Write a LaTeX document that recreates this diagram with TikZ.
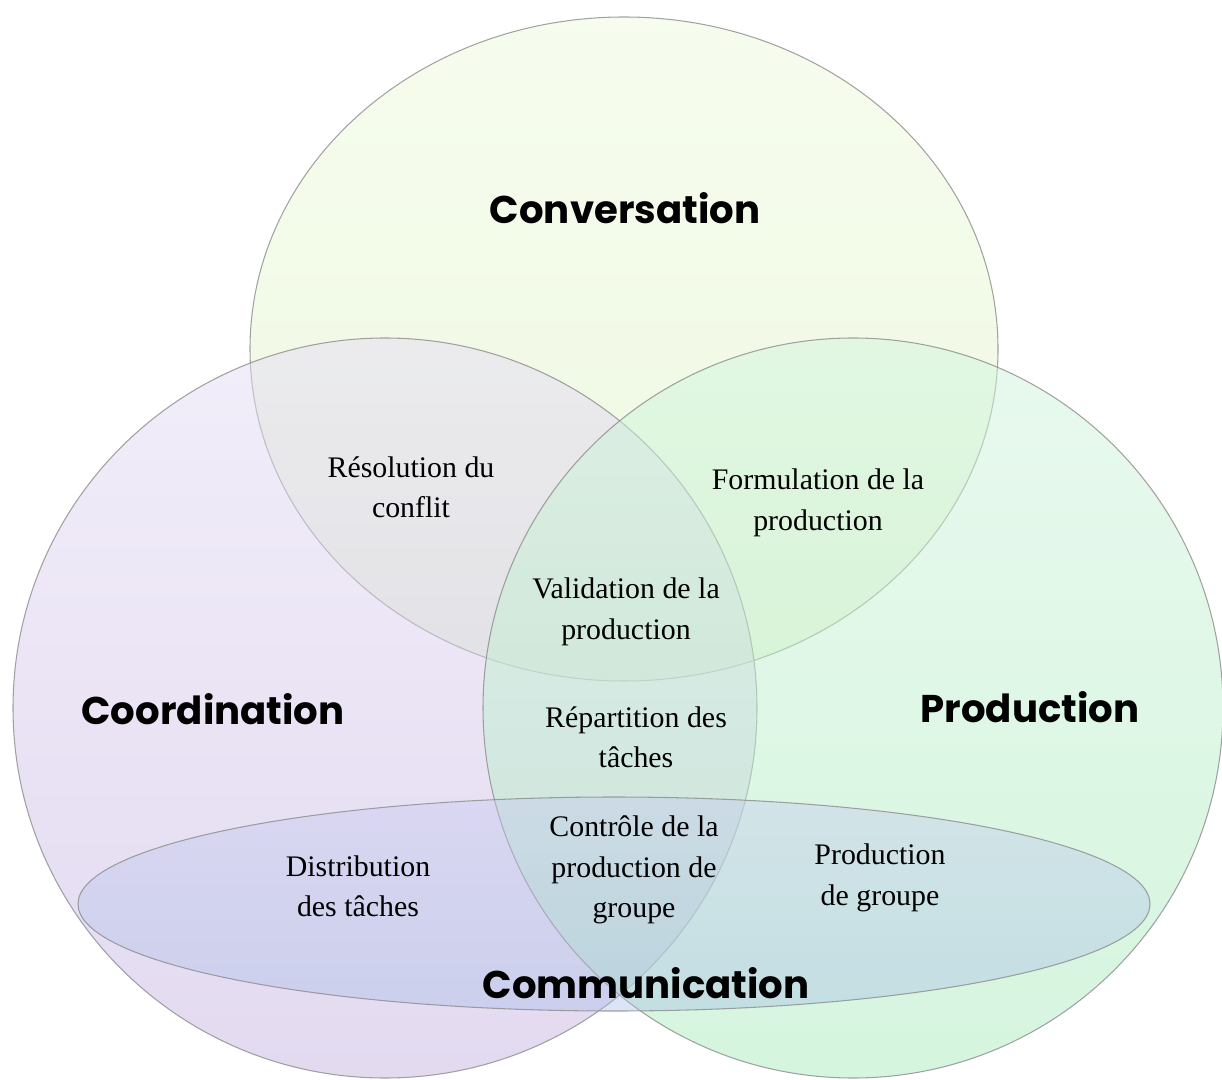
\documentclass[tikz,border=0pt]{standalone}
\usepackage{fontspec}
\setmainfont{Liberation Serif}
\newfontfamily\headfont{Poppins}
\usepackage{tikz}
\usetikzlibrary{calc}
\definecolor{vennGrey}{HTML}{8C8C8C}
\definecolor{talkTop}{HTML}{EDFADD}
\definecolor{talkBot}{HTML}{DDF2C2}
\definecolor{coordTop}{HTML}{E5DDF4}
\definecolor{coordBot}{HTML}{C7B5E2}
\definecolor{prodTop}{HTML}{D2F4DE}
\definecolor{prodBot}{HTML}{ACEBBE}
\definecolor{commTop}{HTML}{C4C8EE}
\definecolor{commBot}{HTML}{A6BEE6}
\tikzset{
	vennset/.style={draw=vennGrey, line width=0.6pt, fill opacity=0.5, draw opacity=0.8},
	commset/.style={vennset, fill opacity=0.4},
	setname/.style={font=\headfont\bfseries\fontsize{22}{26}\selectfont, text=black},
	areatext/.style={align=center, font=\fontsize{17}{23}\selectfont, text=black}
}
\newcommand{\drawVennSet}[6]{
	\shadedraw[#6, top color=#4, bottom color=#5] (#1) ellipse [x radius=#2, y radius=#3];
}

\begin{document}
\begin{tikzpicture}[x=0.02cm, y=0.02cm]
		\useasboundingbox (0,0) rectangle (1222,1079);
		\coordinate (C_talk) at (624,730);
		\coordinate (C_coord) at (385,371);
		\coordinate (C_prod) at (853,371);
		\coordinate (C_comm) at (614,175);

		\drawVennSet{C_talk}{374}{332}{talkTop}{talkBot}{vennset}
		\drawVennSet{C_coord}{372}{370}{coordTop}{coordBot}{vennset}
		\drawVennSet{C_prod}{370}{370}{prodTop}{prodBot}{vennset}
		\drawVennSet{C_comm}{536}{107}{commTop}{commBot}{commset}

		\node[setname] (conversation) at (625,871) {Conversation};
		\node[setname] (coordination) at (213,370) {Coordination};
		\node[setname] (production) at (1030,372) {Production};
		\node[setname] (communication) at (646,96) {Communication};

		\node[areatext] (resolution) at (411,592) {Résolution du\\conflit};
		\node[areatext] (formulation) at (818,576) {Formulation de la\\production};
		\node[areatext] (validation) at (626,467) {Validation de la\\production};
		\node[areatext] (repartition) at (636,342) {Répartition des\\tâches};
		\node[areatext] (controle) at (634,209) {Contrôle de la\\production de\\groupe};
		\node[areatext] (distribution) at (358,193) {Distribution\\des tâches};
		\node[areatext] (groupwork) at (880,201) {Production\\de groupe};

	\end{tikzpicture}
\end{document}
